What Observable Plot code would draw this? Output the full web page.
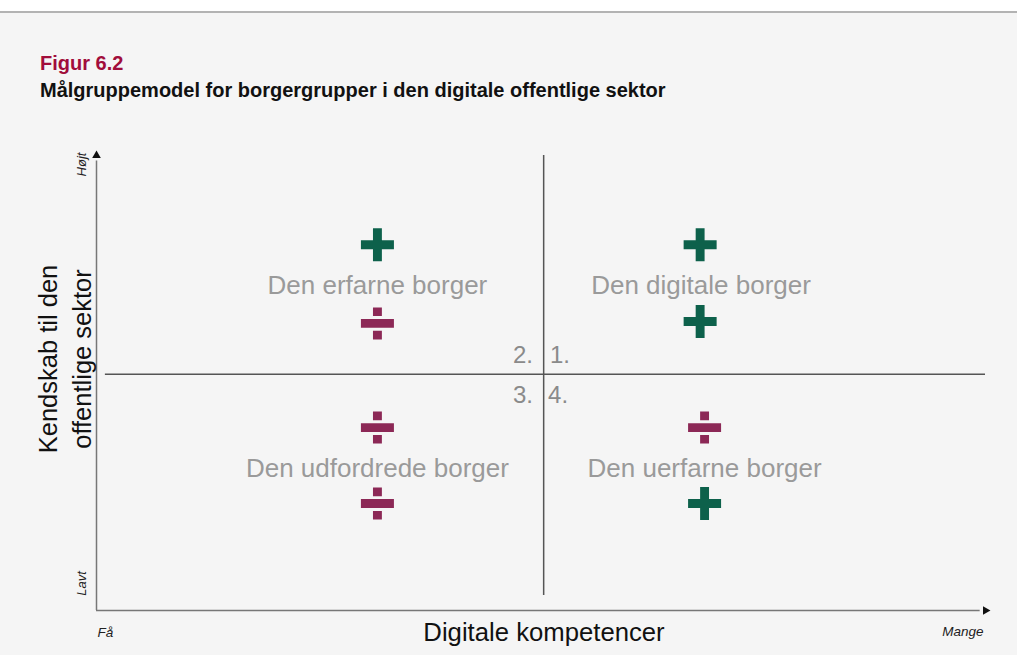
<!DOCTYPE html>
<html>
<head>
<meta charset="utf-8">
<script src="https://cdn.jsdelivr.net/npm/d3@7"></script>
<script src="https://cdn.jsdelivr.net/npm/@observablehq/plot@0.6"></script>
<style>
  html, body { margin: 0; padding: 0; background: #f5f5f5; font-family: "Liberation Sans", Arial, sans-serif; }
  #page { position: relative; width: 1017px; height: 655px; overflow: hidden; background: #f5f5f5; }
  #topband { position: absolute; left: 0; top: 0; width: 1017px; height: 11px; background: #ffffff; border-bottom: 2px solid #b3b3b3; }
  #title { position: absolute; left: 40px; top: 51px; font-size: 20px; font-weight: bold; color: #a10d3b; line-height: 24px; white-space: nowrap; }
  #subtitle { position: absolute; left: 40px; top: 78px; font-size: 20px; font-weight: bold; color: #111; line-height: 24px; white-space: nowrap; }
  #chart { position: absolute; left: 0; top: 110px; }
</style>
</head>
<body>
<div id="page">
  <div id="topband"></div>
  <div id="title">Figur 6.2</div>
  <div id="subtitle">Målgruppemodel for borgergrupper i den digitale offentlige sektor</div>
  <div id="chart"></div>
</div>
<script>
// ---- data ----
const quadrantLabels = ["Den erfarne borger", "Den digitale borger", "Den udfordrede borger", "Den uerfarne borger"];
const labelX = [31.6, 68.0, 31.6, 68.4];
const labelY = [71.4, 71.4, 31.2, 31.2];

const signKind = ["plus", "divide", "plus", "plus", "divide", "divide", "divide", "plus"];
const signX = [31.6, 31.6, 67.9, 67.9, 31.6, 31.6, 68.4, 68.4];
const signY = [80.4, 63.1, 80.4, 63.5, 40.2, 23.5, 40.2, 23.5];

const quadrantNumbers = ["2.", "1.", "3.", "4."];
const numberX = [49.1, 51.0, 49.1, 50.8];
const numberY = [56.0, 56.0, 47.3, 47.3];
const numberSide = ["end", "start", "end", "start"];

const xDividerX = 50.3;
const xDividerY = [3.3, 100];
const yDividerY = 51.9;
const yDividerX = [1, 100];

const xAxisTitle = "Digitale kompetencer";
const yAxisTitle = "Kendskab til den\noffentlige sektor";
const xEnds = ["Få", "Mange"];
const yEnds = ["Lavt", "Højt"];

// ---- custom symbols ----
const plusSymbol = {
  draw(ctx, size) {
    const a = Math.sqrt(size / Math.PI), b = 0.27 * a;
    ctx.moveTo(-a, -b); ctx.lineTo(-b, -b); ctx.lineTo(-b, -a); ctx.lineTo(b, -a);
    ctx.lineTo(b, -b); ctx.lineTo(a, -b); ctx.lineTo(a, b); ctx.lineTo(b, b);
    ctx.lineTo(b, a); ctx.lineTo(-b, a); ctx.lineTo(-b, b); ctx.lineTo(-a, b);
    ctx.closePath();
  }
};
const divideSymbol = {
  draw(ctx, size) {
    const a = Math.sqrt(size / Math.PI), b = 0.27 * a;
    const dw = 0.27 * a, dh = 0.26 * a, c = b + 0.18 * a + dh;
    ctx.rect(-a, -b, 2 * a, 2 * b);
    ctx.rect(-dw, -c - dh, 2 * dw, 2 * dh);
    ctx.rect(-dw, c - dh, 2 * dw, 2 * dh);
  }
};

const signs = signKind.map((k, i) => ({kind: k, x: signX[i], y: signY[i]}));
const labels = quadrantLabels.map((t, i) => ({t, x: labelX[i], y: labelY[i]}));
const nums = quadrantNumbers.map((t, i) => ({t, x: numberX[i], y: numberY[i], side: numberSide[i]}));

const green = "#0d614b";
const maroon = "#8c2856";
const font = "Liberation Sans, Arial, sans-serif";

const chart = Plot.plot({
  width: 1017,
  height: 545,
  marginLeft: 96,
  marginRight: 32,
  marginTop: 45,
  marginBottom: 45,
  x: {domain: [0, 100], axis: null},
  y: {domain: [0, 100], axis: null},
  style: {background: "transparent", fontFamily: font},
  marks: [
    // axes
    Plot.ruleY([0], {x1: 0, x2: 99.4, stroke: "#777", strokeWidth: 1.5}),
    Plot.ruleX([0], {y1: 0, y2: 98.8, stroke: "#777", strokeWidth: 1.5}),
    Plot.dot([{x: 100, y: 0}], {x: "x", y: "y", symbol: "triangle", r: 3.2, rotate: 90, fill: "#111", stroke: null}),
    Plot.dot([{x: 0, y: 100}], {x: "x", y: "y", symbol: "triangle", r: 3.2, fill: "#111", stroke: null}),
    // dividers
    Plot.ruleX([xDividerX], {y1: xDividerY[0], y2: xDividerY[1], stroke: "#555", strokeWidth: 1.5}),
    Plot.ruleY([yDividerY], {x1: yDividerX[0], x2: yDividerX[1], stroke: "#555", strokeWidth: 1.5}),
    // quadrant numbers
    Plot.text(nums.filter(d => d.side === "end"), {x: "x", y: "y", text: "t", textAnchor: "end", fontSize: 24, fill: "#8a8a8a"}),
    Plot.text(nums.filter(d => d.side === "start"), {x: "x", y: "y", text: "t", textAnchor: "start", fontSize: 24, fill: "#8a8a8a"}),
    // quadrant labels
    Plot.text(labels, {x: "x", y: "y", text: "t", fontSize: 26, fill: "#9a9a9a"}),
    // signs
    Plot.dot(signs.filter(d => d.kind === "plus"), {x: "x", y: "y", symbol: plusSymbol, r: 16.5, fill: green, stroke: null}),
    Plot.dot(signs.filter(d => d.kind === "divide"), {x: "x", y: "y", symbol: divideSymbol, r: 16.5, fill: maroon, stroke: null}),
    // axis titles
    Plot.text([xAxisTitle], {frameAnchor: "bottom", dx: 3, dy: 22, lineAnchor: "middle", textAnchor: "middle", fontSize: 25.7, fill: "#111"}),
    Plot.text([yAxisTitle], {frameAnchor: "left", dx: -33, dy: -24, rotate: -90, textAnchor: "middle", lineAnchor: "middle", fontSize: 25.5, lineHeight: 1.32, fill: "#111"}),
    // end labels
    Plot.text([xEnds[0]], {frameAnchor: "bottom-left", dy: 22, dx: 1, textAnchor: "start", lineAnchor: "middle", fontSize: 13.5, fontStyle: "italic", fill: "#222"}),
    Plot.text([xEnds[1]], {frameAnchor: "bottom-right", dy: 21, dx: -2, textAnchor: "end", lineAnchor: "middle", fontSize: 13.5, fontStyle: "italic", fill: "#222"}),
    Plot.text([yEnds[0]], {frameAnchor: "bottom-left", dx: -15, dy: -27, rotate: -90, textAnchor: "middle", lineAnchor: "middle", fontSize: 13, fontStyle: "italic", fill: "#222"}),
    Plot.text([yEnds[1]], {frameAnchor: "top-left", dx: -15, dy: 9, rotate: -90, textAnchor: "middle", lineAnchor: "middle", fontSize: 13, fontStyle: "italic", fill: "#222"})
  ]
});
document.getElementById("chart").appendChild(chart);
</script>
</body>
</html>
